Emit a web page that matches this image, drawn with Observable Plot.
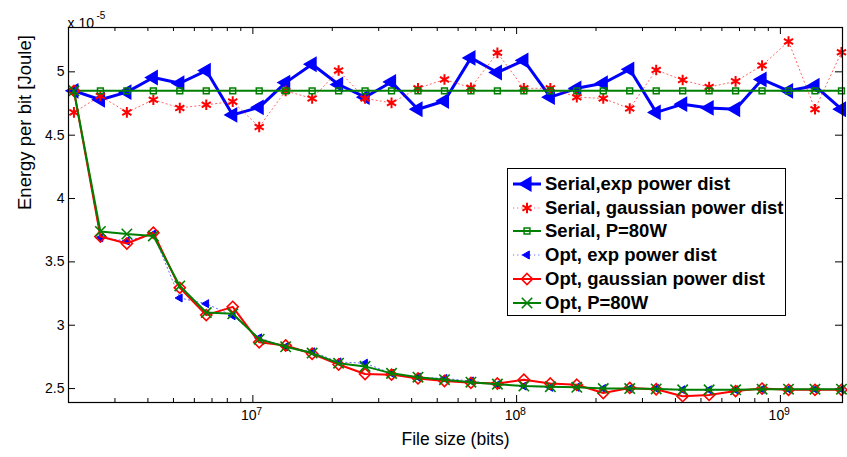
<!DOCTYPE html>
<html><head><meta charset="utf-8">
<script src="https://cdn.jsdelivr.net/npm/d3@7"></script>
<script src="https://cdn.jsdelivr.net/npm/@observablehq/plot@0.6"></script>
<style>
body{margin:0;background:#fff;}
#wrap{position:relative;width:847px;height:457px;font-family:"Liberation Sans",Arial,sans-serif;}
#legend{position:absolute;left:507px;top:168px;width:279px;height:148px;border:1px solid #000;background:#fff;box-sizing:border-box;padding-top:3px}
.item{display:flex;align-items:center;height:23.8px;font-weight:bold;font-size:18.5px;white-space:nowrap;color:#000}
.item svg{margin-left:4px;margin-right:3px;flex:none}
</style></head><body><div id="wrap"></div>
<script>
// File sizes (bits)
const fileSize = [2097152, 2642246, 3329021, 4194304, 5284492, 6658042, 8388608, 10568984, 13316084, 16777216,
  21137968, 26632168, 33554432, 42275936, 53264336, 67108864, 84551872, 106528672, 134217728, 169103744,
  213057344, 268435456, 338207488, 426114688, 536870912, 676414976, 852229376, 1073741824, 1352829952, 1704458752];
// Energy per bit, in units of 1e-5 Joule
const serialExp = [4.85, 4.78, 4.84, 4.955, 4.91, 5.01, 4.66, 4.72, 4.915, 5.06, 4.90, 4.80, 4.92, 4.705, 4.77,
  5.11, 4.995, 5.09, 4.80, 4.87, 4.91, 5.02, 4.68, 4.745, 4.715, 4.705, 4.94, 4.85, 4.89, 4.705];
const serialGauss = [4.68, 4.81, 4.68, 4.78, 4.715, 4.74, 4.765, 4.565, 4.85, 4.79, 5.01, 4.79, 4.755, 4.87, 4.94,
  4.875, 5.15, 4.87, 4.87, 4.80, 4.79, 4.71, 5.015, 4.935, 4.88, 4.925, 5.05, 5.24, 4.705, 5.155];
const serial80 = [4.85, 4.85, 4.85, 4.85, 4.85, 4.85, 4.85, 4.85, 4.85, 4.85, 4.85, 4.85, 4.85, 4.85, 4.85,
  4.85, 4.85, 4.85, 4.85, 4.85, 4.85, 4.85, 4.85, 4.85, 4.85, 4.85, 4.85, 4.85, 4.85, 4.85];
const optExp = [4.85, 3.69, 3.665, 3.72, 3.215, 3.17, 3.075, 2.90, 2.83, 2.79, 2.71, 2.70, 2.62, 2.59, 2.58,
  2.56, 2.53, 2.52, 2.51, 2.51, 2.50, 2.50, 2.50, 2.49, 2.49, 2.49, 2.495, 2.495, 2.495, 2.495];
const optGauss = [4.85, 3.70, 3.645, 3.73, 3.295, 3.08, 3.145, 2.865, 2.84, 2.775, 2.69, 2.615, 2.61, 2.58, 2.56,
  2.545, 2.54, 2.57, 2.54, 2.53, 2.465, 2.505, 2.495, 2.44, 2.45, 2.48, 2.50, 2.49, 2.49, 2.49];
const opt80 = [4.85, 3.74, 3.72, 3.705, 3.31, 3.10, 3.09, 2.89, 2.83, 2.78, 2.70, 2.675, 2.62, 2.59, 2.57,
  2.55, 2.535, 2.52, 2.515, 2.51, 2.50, 2.50, 2.497, 2.49, 2.49, 2.49, 2.495, 2.495, 2.495, 2.495];

const seriesNames = ["Serial,exp power dist", "Serial, gaussian power dist", "Serial, P=80W",
  "Opt, exp power dist", "Opt, gaussian power dist", "Opt, P=80W"];
const yTicks = [2.5, 3, 3.5, 4, 4.5, 5];
const xMajor = [1e7, 1e8, 1e9];
const xMinor = [3e6, 4e6, 5e6, 6e6, 7e6, 8e6, 9e6, 2e7, 3e7, 4e7, 5e7, 6e7, 7e7, 8e7, 9e7,
  2e8, 3e8, 4e8, 5e8, 6e8, 7e8, 8e8, 9e8];
const xLabel = "File size (bits)";
const yLabel = "Energy per bit [Joule]";

const styles = [
  {values: serialExp, stroke: "#0000ff", sw: 3, dash: null, op: 1, symbol: "triangle", rotate: -90, r: 4.6, fill: "#0000ff", mstroke: "#0000ff", msw: 2},
  {values: serialGauss, stroke: "#ff0000", sw: 1, dash: "1.2,3", op: 0.6, symbol: "asterisk", rotate: 0, r: 5, fill: "none", mstroke: "#ff0000", msw: 2},
  {values: serial80, stroke: "#008000", sw: 2, dash: null, op: 1, symbol: "square2", rotate: 0, r: 3.7, fill: "none", mstroke: "#008000", msw: 1.5},
  {values: optExp, stroke: "#0000ff", sw: 1, dash: "1.2,3", op: 0.6, symbol: "triangle", rotate: -90, r: 3, fill: "#0000ff", mstroke: "#0000ff", msw: 1},
  {values: optGauss, stroke: "#ff0000", sw: 2, dash: null, op: 1, symbol: "diamond2", rotate: 0, r: 5, fill: "none", mstroke: "#ff0000", msw: 1.6},
  {values: opt80, stroke: "#008000", sw: 2, dash: null, op: 1, symbol: "times", rotate: 0, r: 4.8, fill: "none", mstroke: "#008000", msw: 1.6}
];

const W = 847, H = 457, mL = 68, mR = 5, mT = 27, mB = 55;
const pw = W - mL - mR, ph = H - mT - mB;

const marks = [];
styles.forEach((s) => {
  const data = fileSize.map((x, i) => ({x, y: s.values[i]}));
  marks.push(Plot.line(data, {x: "x", y: "y", stroke: s.stroke, strokeWidth: s.sw, strokeDasharray: s.dash, strokeOpacity: s.op}));
  marks.push(Plot.dot(data, {x: "x", y: "y", symbol: s.symbol, rotate: s.rotate, r: s.r, fill: s.fill, stroke: s.mstroke, strokeWidth: s.msw}));
});

const chart = Plot.plot({
  width: W, height: H,
  marginLeft: mL, marginRight: mR, marginTop: mT, marginBottom: mB,
  style: {fontFamily: "'Liberation Sans', Arial, sans-serif", background: "white", color: "black"},
  x: {type: "log", domain: [2e6, 1.72e9], axis: null},
  y: {domain: [2.39, 5.35], axis: null},
  marks: [
    // ticks (inward, box style)
    Plot.tickX(xMajor, {x: d => d, insetTop: ph - 7, stroke: "black"}),
    Plot.tickX(xMajor, {x: d => d, insetBottom: ph - 7, stroke: "black"}),
    Plot.tickX(xMinor, {x: d => d, insetTop: ph - 4, stroke: "black"}),
    Plot.tickX(xMinor, {x: d => d, insetBottom: ph - 4, stroke: "black"}),
    Plot.tickY(yTicks, {y: d => d, insetRight: pw - 7, stroke: "black"}),
    Plot.tickY(yTicks, {y: d => d, insetLeft: pw - 7, stroke: "black"}),
    // tick labels
    Plot.text(yTicks, {y: d => d, frameAnchor: "left", dx: -4, textAnchor: "end", text: d => String(d), fontSize: 14}),
    Plot.text(xMajor, {x: d => d, frameAnchor: "bottom", dy: 17, dx: -4, textAnchor: "middle", text: () => "10", fontSize: 14}),
    Plot.text(xMajor, {x: d => d, frameAnchor: "bottom", dy: 12, dx: 3.5, textAnchor: "start", text: d => String(Math.round(Math.log10(d))), fontSize: 10.5}),
    // exponent multiplier
    Plot.text(["x 10"], {frameAnchor: "top-left", text: d => d, textAnchor: "start", dy: -9, dx: -1, fontSize: 14}),
    Plot.text(["-5"], {frameAnchor: "top-left", text: d => d, textAnchor: "start", dy: -16, dx: 28, fontSize: 10}),
    // axis labels
    Plot.text([xLabel], {frameAnchor: "bottom", text: d => d, dy: 42, fontSize: 17.5}),
    Plot.text([yLabel], {frameAnchor: "left", text: d => d, rotate: -90, dx: -43, dy: -5, fontSize: 18.5}),
    ...marks,
    Plot.frame({stroke: "black", strokeWidth: 1.2})
  ]
});

const wrap = document.getElementById("wrap");
wrap.appendChild(chart);

// legend
const legend = document.createElement("div");
legend.id = "legend";
styles.forEach((s, i) => {
  const item = document.createElement("div");
  item.className = "item";
  const svg = d3.create("svg").attr("width", 30).attr("height", 20);
  svg.append("line").attr("x1", 1).attr("x2", 29).attr("y1", 10).attr("y2", 10)
    .attr("stroke", s.stroke).attr("stroke-width", s.sw).attr("stroke-dasharray", s.dash).attr("stroke-opacity", s.op);
  const symMap = {triangle: d3.symbolTriangle, asterisk: d3.symbolAsterisk, square2: d3.symbolSquare2, diamond2: d3.symbolDiamond2, times: d3.symbolTimes};
  svg.append("path").attr("d", d3.symbol(symMap[s.symbol], Math.PI * s.r * s.r)())
    .attr("transform", `translate(15,10) rotate(${s.rotate})`)
    .attr("fill", s.fill).attr("stroke", s.mstroke).attr("stroke-width", s.msw);
  item.appendChild(svg.node());
  const span = document.createElement("span");
  span.textContent = seriesNames[i];
  item.appendChild(span);
  legend.appendChild(item);
});
wrap.appendChild(legend);
</script>
</body></html>
